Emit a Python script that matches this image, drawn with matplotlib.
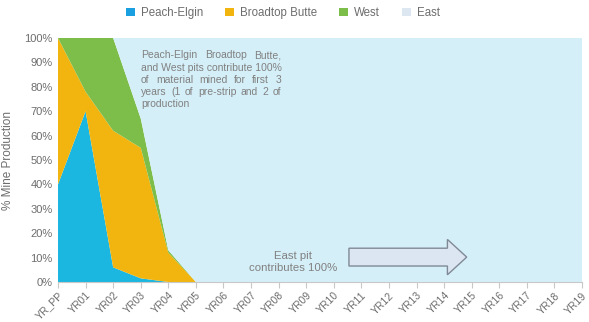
import matplotlib

matplotlib.use("Agg")

import matplotlib.pyplot as plt  # noqa: E402
import numpy as np  # noqa: E402
from matplotlib.patches import FancyArrow, Patch  # noqa: E402

plt.rcParams["font.family"] = ["Liberation Sans", "DejaVu Sans"]

# --- Datos (% de la producción por tajo) ---
years = ["YR_PP"] + [f"YR{i:02d}" for i in range(1, 20)]
peach_elgin = [40, 70, 6, 1.5, 0] + [0] * 15
broadtop_butte = [60, 8, 56, 53.5, 12, 0] + [0] * 14
west = [0, 22, 38, 12, 1, 0] + [0] * 14
east = [100 - a - b - c for a, b, c in zip(peach_elgin, broadtop_butte, west)]

labels = ["Peach-Elgin", "Broadtop Butte", "West", "East"]
colors = ["#1bb7e0", "#f2b50f", "#7dbd4a", "#d5eff8"]
legend_colors = ["#1aa0e0", "#f2b50f", "#7dbd4a", "#dde7f2"]

note_lines = [
    "Peach-Elgin Broadtop Butte,",
    "and West pits contribute 100%",
    "of material mined for first 3",
    "years (1 of pre-strip and 2 of",
    "production",
]

grey = "#6d6d6d"
note_grey = "#808080"

fig = plt.figure(figsize=(5.89, 3.22), dpi=100)
ax = fig.add_axes([58 / 589, 1 - 282 / 322, 524 / 589, 244 / 322])

x = np.arange(len(years))
ax.stackplot(x, peach_elgin, broadtop_butte, west, east, colors=colors, linewidth=0)

ax.set_xlim(0, len(years) - 1)
ax.set_ylim(0, 100)
ax.set_xticks(x)
ax.set_xticklabels(years, rotation=45, ha="right", rotation_mode="anchor",
                   fontsize=7.5, color=grey)
ax.set_yticks(np.arange(0, 101, 10))
ax.set_yticklabels([f"{v}%" for v in range(0, 101, 10)], fontsize=8, color=grey)
ax.tick_params(axis="y", length=0, pad=4)
ax.tick_params(axis="x", length=4, color="#c8c8c8", pad=2)
for side in ["top", "right", "left"]:
    ax.spines[side].set_visible(False)
ax.spines["bottom"].set_color("#c8c8c8")
ax.set_ylabel("% Mine Production", fontsize=8.5, color=grey, labelpad=7)

# --- Nota justificada (palabra a palabra, alineada por la línea base) ---
fig.canvas.draw()
renderer = fig.canvas.get_renderer()
x_left, x_right = 3.01, 8.09
y_base, line_step = 91.6, 5.0
note_size = 7.5
to_data = ax.transData.inverted()


def _text_width(s):
    t = ax.text(0, 0, s, fontsize=note_size)
    bb = t.get_window_extent(renderer)
    t.remove()
    return to_data.transform((bb.x1, 0))[0] - to_data.transform((bb.x0, 0))[0]


for i, line in enumerate(note_lines):
    y = y_base - i * line_step
    words = line.split()
    natural = _text_width(line)
    # última línea o línea que ya llena el ancho: se dibuja tal cual
    if i == len(note_lines) - 1 or len(words) == 1 or natural >= 0.97 * (x_right - x_left):
        ax.text(x_left, y, line, fontsize=note_size, color=note_grey, va="baseline")
        continue
    widths = [_text_width(w) for w in words]
    gap = (x_right - x_left - sum(widths)) / (len(words) - 1)
    pos = x_left
    for w, wd in zip(words, widths):
        ax.text(pos, y, w, fontsize=note_size, color=note_grey, va="baseline")
        pos += wd + gap

# --- Flecha "East pit" ---
ax.text(8.52, 8.3, "East pit\ncontributes 100%", fontsize=8.2, color=note_grey,
        ha="center", va="center", linespacing=1.2)
ax.add_patch(FancyArrow(10.55, 10.2, 4.27, 0, width=7.3, head_width=14.5,
                        head_length=0.7, length_includes_head=True,
                        facecolor="#dce6f2", edgecolor="#7f8a96", linewidth=1))

handles = [Patch(facecolor=c, edgecolor="none") for c in legend_colors]
fig.legend(handles, labels, loc="center", bbox_to_anchor=(283 / 589, 1 - 13 / 322),
           ncol=4, frameon=False, fontsize=8.3, labelcolor=grey, handlelength=0.8,
           handleheight=0.8, handletextpad=0.5, columnspacing=1.9)

fig.savefig("out.png", dpi=100)
plt.close(fig)
